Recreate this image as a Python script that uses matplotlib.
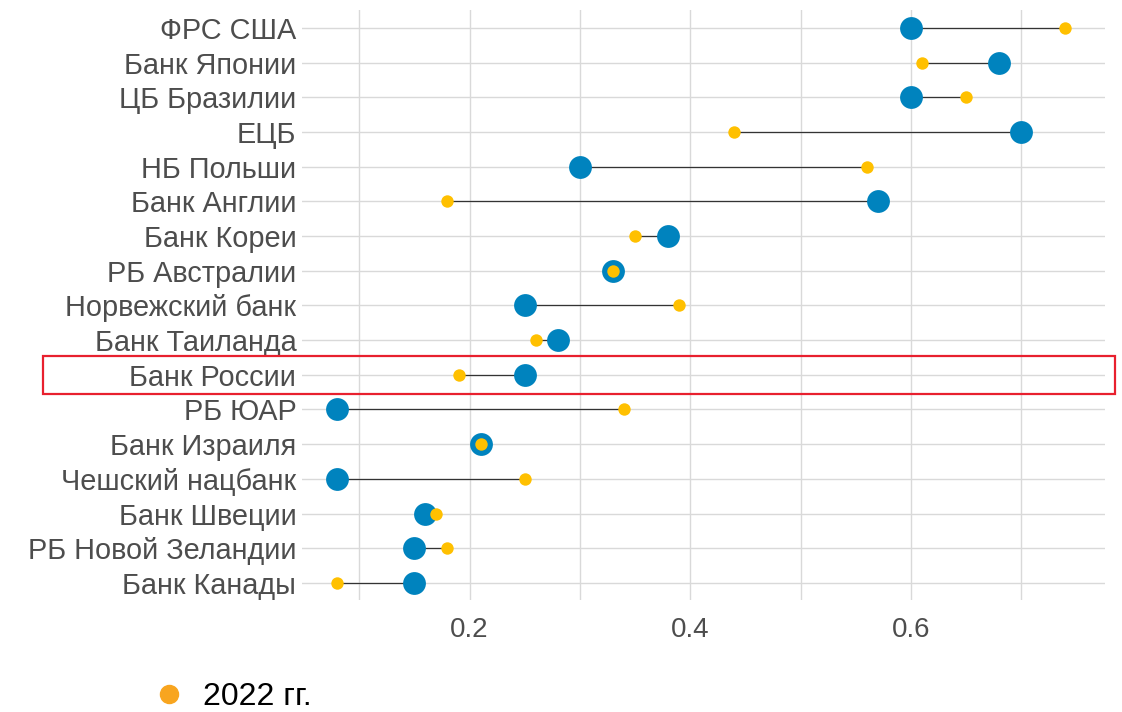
import numpy as np
import matplotlib.pyplot as plt
from matplotlib.lines import Line2D
from matplotlib.patches import Rectangle
import matplotlib.transforms as mtransforms

plt.rcParams['font.family'] = ['Liberation Sans', 'DejaVu Sans']

banks = ['ФРС США', 'Банк Японии', 'ЦБ Бразилии', 'ЕЦБ', 'НБ Польши',
         'Банк Англии', 'Банк Кореи', 'РБ Австралии', 'Норвежский банк',
         'Банк Таиланда', 'Банк России', 'РБ ЮАР', 'Банк Израиля',
         'Чешский нацбанк', 'Банк Швеции', 'РБ Новой Зеландии', 'Банк Канады']
blue_vals = [0.60, 0.68, 0.60, 0.70, 0.30, 0.57, 0.38, 0.33, 0.25,
             0.28, 0.25, 0.08, 0.21, 0.08, 0.16, 0.15, 0.15]
vals_2022 = [0.74, 0.61, 0.65, 0.44, 0.56, 0.18, 0.35, 0.33, 0.39,
             0.26, 0.19, 0.34, 0.21, 0.25, 0.17, 0.18, 0.08]
highlight = 'Банк России'
legend_label = '2022 гг.'

blue = '#0083BE'
yellow = '#FFC000'
grid_c = '#D9D9D9'

fig = plt.figure(figsize=(11.22, 7.12), dpi=100)
ax = fig.add_axes([0.269, 0.157, 0.716, 0.829])

y = np.arange(len(banks))
ax.hlines(y, blue_vals, vals_2022, color='#333333', lw=0.9, zorder=2)
ax.scatter(blue_vals, y, s=270, color=blue, zorder=3, linewidths=0)
ax.scatter(vals_2022, y, s=80, color=yellow, zorder=4, linewidths=0)

ax.set_yticks(y)
ax.set_yticklabels(banks, fontsize=20.8, color='#4D4D4D')
ax.set_ylim(len(banks) - 0.5, -0.52)
ax.set_xlim(0.048, 0.776)
ax.set_xticks([0.2, 0.4, 0.6])
ax.set_xticklabels(['0.2', '0.4', '0.6'], fontsize=20, color='#4D4D4D')
ax.set_xticks([0.1, 0.3, 0.5, 0.7], minor=True)
ax.tick_params(which='both', length=0)
ax.tick_params(axis='y', pad=4)
ax.tick_params(axis='x', pad=12)
ax.grid(True, which='both', axis='x', color=grid_c, lw=1)
ax.grid(True, which='major', axis='y', color=grid_c, lw=1)
ax.set_axisbelow(True)
for s in ax.spines.values():
    s.set_visible(False)

# red frame around the highlighted row
i = banks.index(highlight)
tr = mtransforms.blended_transform_factory(fig.transFigure, ax.transData)
ax.add_patch(Rectangle((0.038, i + 0.55), 0.956, -1.1, transform=tr,
                       fill=False, edgecolor='#E8202E', lw=1.6,
                       clip_on=False, zorder=5))

handle = Line2D([], [], marker='o', ls='none', color='#F8A51F', markersize=13)
fig.legend([handle], [legend_label], loc='lower left',
           bbox_to_anchor=(0.111, -0.04), frameon=False, fontsize=23,
           handlelength=1.0, handletextpad=0.55, labelcolor='black')

fig.savefig('out.png', dpi=100)
